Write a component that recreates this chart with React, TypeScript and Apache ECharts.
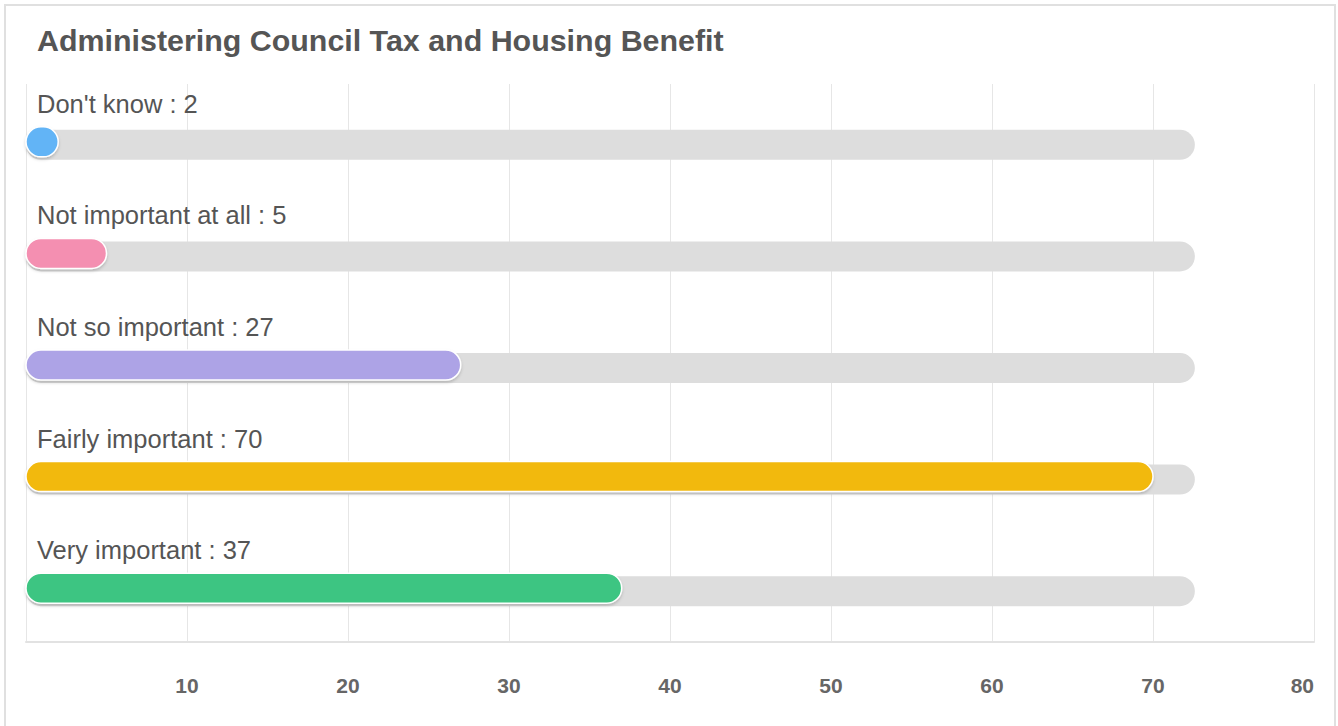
import React, { useEffect, useRef } from "react";
import * as echarts from "echarts";

const title = "Administering Council Tax and Housing Benefit";
const categories = ["Don't know", "Not important at all", "Not so important", "Fairly important", "Very important"];
const values = [2, 5, 27, 70, 37];
const colors = ["#62b4f6", "#f48fb1", "#ada3e6", "#f2b90f", "#3ec582"];
const trackMax = 72.6;
const axisTicks = [0, 10, 20, 30, 40, 50, 60, 70, 80];

const FONT = "Liberation Sans, Arial, Helvetica, sans-serif";

export default function App() {
  const ref = useRef<HTMLDivElement>(null);
  useEffect(() => {
    if (!ref.current) return;
    const chart = echarts.init(ref.current, undefined, { renderer: "svg" });
    const data = values.map((v, i) => [v, i]);
    chart.setOption({
      animation: false,
      backgroundColor: "#ffffff",
      title: {
        text: title,
        left: 37,
        top: 25,
        padding: 0,
        textStyle: { fontFamily: FONT, fontSize: 30.4, fontWeight: "bold", color: "#555555" },
      },
      graphic: [
        {
          type: "rect",
          shape: { x: 5, y: 5, width: 1330, height: 760 },
          style: { fill: "none", stroke: "#e0e0e0", lineWidth: 2 },
          silent: true,
        },
      ],
      grid: { left: 26, right: 24, top: 84, bottom: 84, containLabel: false },
      xAxis: {
        type: "value",
        min: axisTicks[0],
        max: axisTicks[axisTicks.length - 1],
        interval: 10,
        axisLine: { show: true, lineStyle: { color: "#e2e2e2", width: 2 } },
        axisTick: { show: false },
        splitLine: { show: true, lineStyle: { color: "#e6e6e6", width: 1 } },
        axisLabel: {
          margin: 33,
          fontFamily: FONT,
          fontSize: 21,
          fontWeight: "bold",
          color: "#666666",
          alignMaxLabel: "right",
          formatter: (v: number) => (v === 0 ? "" : String(v)),
        },
      },
      yAxis: {
        type: "category",
        data: categories,
        inverse: true,
        show: false,
      },
      series: [
        {
          type: "custom",
          data,
          renderItem: (params: any, api: any) => {
            const v = api.value(0);
            const idx = api.value(1);
            const p0 = api.coord([0, idx]);
            const pv = api.coord([v, idx]);
            const pt = api.coord([trackMax, idx]);
            const yc = p0[1];
            const x0 = p0[0];
            const h = 30;
            return {
              type: "group",
              children: [
                {
                  type: "rect",
                  shape: { x: x0, y: yc - 10, width: pt[0] - x0, height: h, r: 15 },
                  style: { fill: "#dddddd" },
                },
                {
                  type: "rect",
                  shape: { x: x0, y: yc - 13, width: Math.max(pv[0] - x0, h + 2), height: h, r: 15 },
                  style: {
                    fill: colors[idx],
                    stroke: "#ffffff",
                    lineWidth: 1.5,
                    shadowColor: "rgba(0,0,0,0.18)",
                    shadowBlur: 3,
                    shadowOffsetY: 2,
                  },
                },
                {
                  type: "text",
                  x: x0 + 11,
                  y: yc - 36,
                  style: {
                    text: categories[idx] + " : " + v,
                    fontFamily: FONT,
                    fontSize: 25.5,
                    fill: "#555555",
                    verticalAlign: "middle",
                    align: "left",
                  },
                },
              ],
            };
          },
        },
      ],
    });
    return () => chart.dispose();
  }, []);
  return <div ref={ref} style={{ position: "fixed", left: 0, top: 0, width: 1338, height: 726 }} />;
}
